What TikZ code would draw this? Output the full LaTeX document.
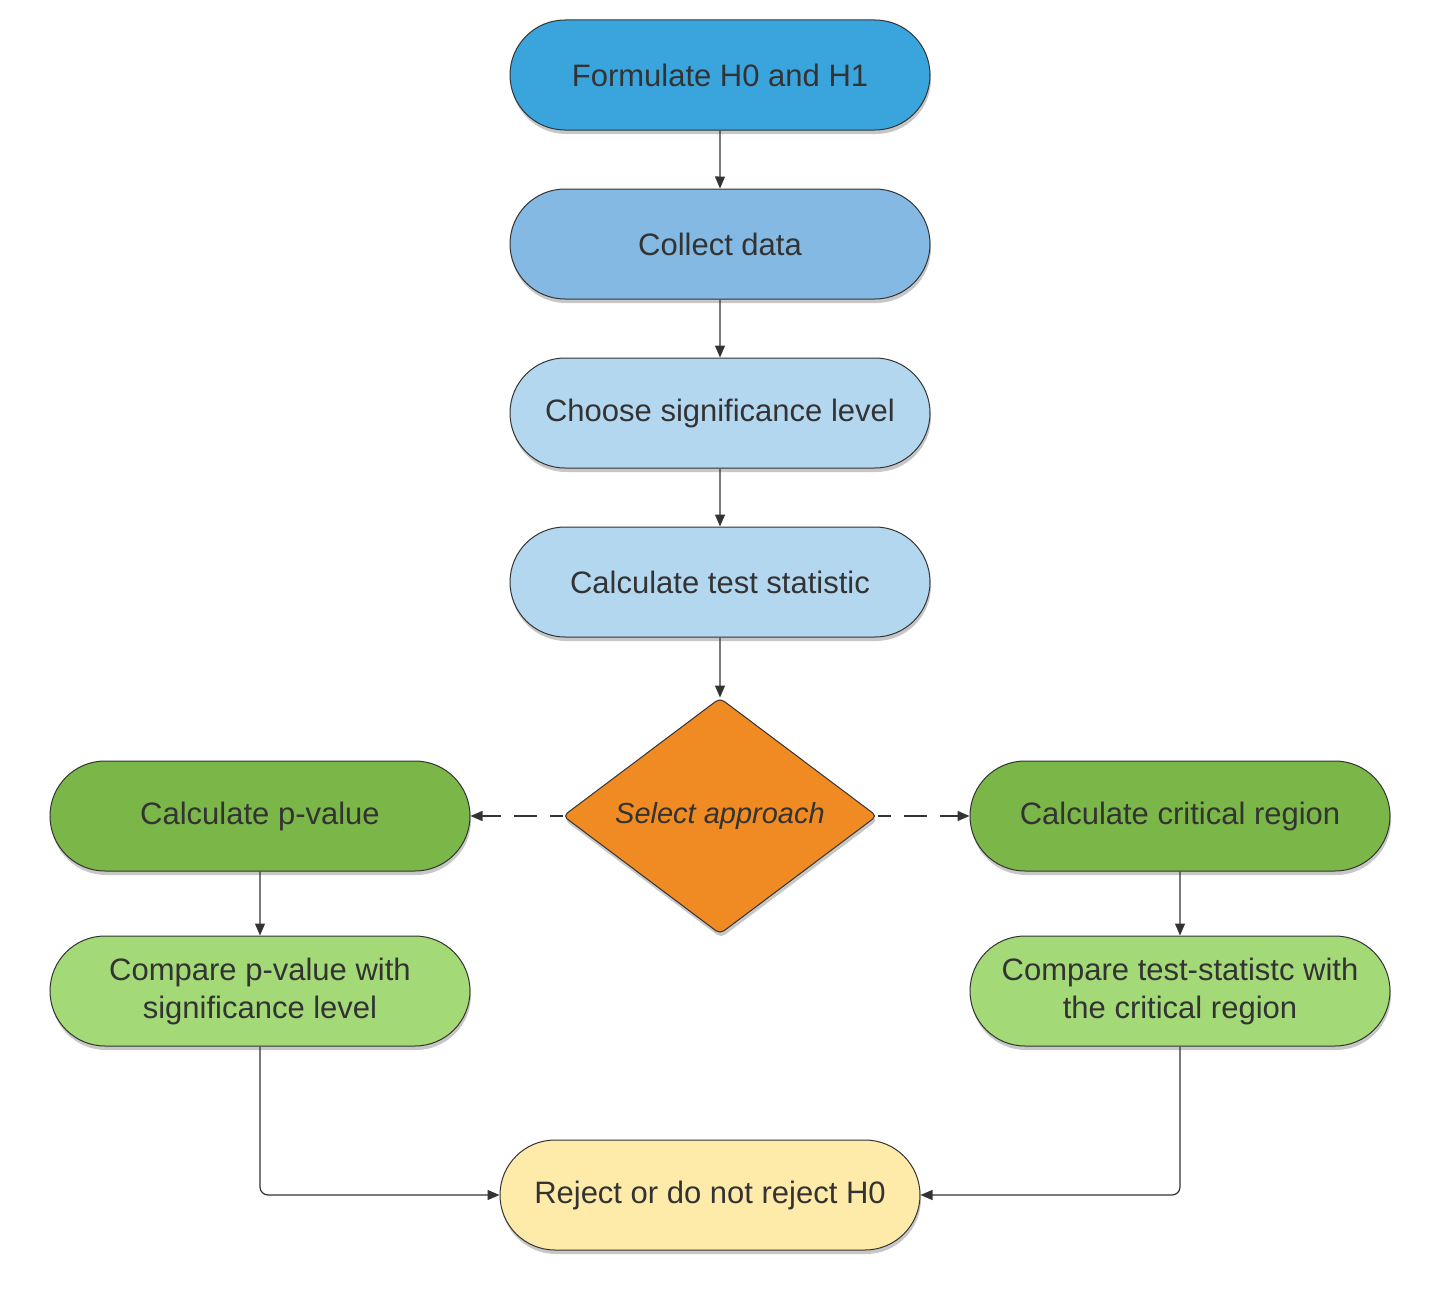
\documentclass[tikz,border=0pt]{standalone}
\usepackage{fontspec}
\setmainfont{Liberation Sans}
\usetikzlibrary{shapes.misc,shapes.geometric,arrows.meta,shadows}
\definecolor{ink}{HTML}{333333}
\definecolor{cA}{HTML}{3AA4DD}
\definecolor{cB}{HTML}{83B9E3}
\definecolor{cC}{HTML}{B4D7F0}
\definecolor{cO}{HTML}{EF8B22}
\definecolor{cG}{HTML}{7AB648}
\definecolor{cL}{HTML}{A3D977}
\definecolor{cY}{HTML}{FFEBA9}
\begin{document}
\begin{tikzpicture}[x=1pt,y=-1pt,
  every node/.style={text=ink,font=\fontsize{31}{38}\selectfont},
  pill/.style={rounded rectangle,draw=ink,line width=1pt,minimum width=420pt,minimum height=110pt,inner sep=0pt,align=center,
    drop shadow={shadow xshift=1pt,shadow yshift=-4pt,opacity=0.22,fill=black}},
  dia/.style={diamond,draw=ink,line width=1pt,fill=cO,minimum width=314pt,minimum height=236pt,inner sep=0pt,aspect=1.33,rounded corners=5pt,
    font=\fontsize{29}{35}\selectfont\itshape,
    drop shadow={shadow xshift=1pt,shadow yshift=-4pt,opacity=0.22,fill=black}},
  conn/.style={draw=ink,line width=1.2pt,-{Triangle[length=12pt,width=10pt]}},
  dconn/.style={conn,dash pattern=on 23pt off 13pt,dash phase=10pt}
]
\useasboundingbox (0,0) rectangle (1441,1290);
\node[pill,fill=cA] (f) at (720,75) {Formulate H0 and H1};
\node[pill,fill=cB] (c) at (720,244) {Collect data};
\node[pill,fill=cC] (s) at (720,413) {Choose significance level};
\node[pill,fill=cC] (t) at (720,582) {Calculate test statistic};
\node[dia] (d) at (720,816) {Select approach};
\node[pill,fill=cG] (p) at (260,816) {Calculate p-value};
\node[pill,fill=cG] (r) at (1180,816) {Calculate critical region};
\node[pill,fill=cL] (pc) at (260,991) {Compare p-value with\\significance level};
\node[pill,fill=cL] (rc) at (1180,991) {Compare test-statistc with\\the critical region};
\node[pill,fill=cY] (j) at (710,1195) {Reject or do not reject H0};
\draw[conn] (f) -- (c);
\draw[conn] (c) -- (s);
\draw[conn] (s) -- (t);
\draw[conn] (t) -- (d);
\draw[dconn] (d.west) -- (p.east);
\draw[dconn] (d.east) -- (r.west);
\draw[conn] (p) -- (pc);
\draw[conn] (r) -- (rc);
\draw[conn,rounded corners=8pt] (pc.south) |- (j.west);
\draw[conn,rounded corners=8pt] (rc.south) |- (j.east);
\end{tikzpicture}
\end{document}
